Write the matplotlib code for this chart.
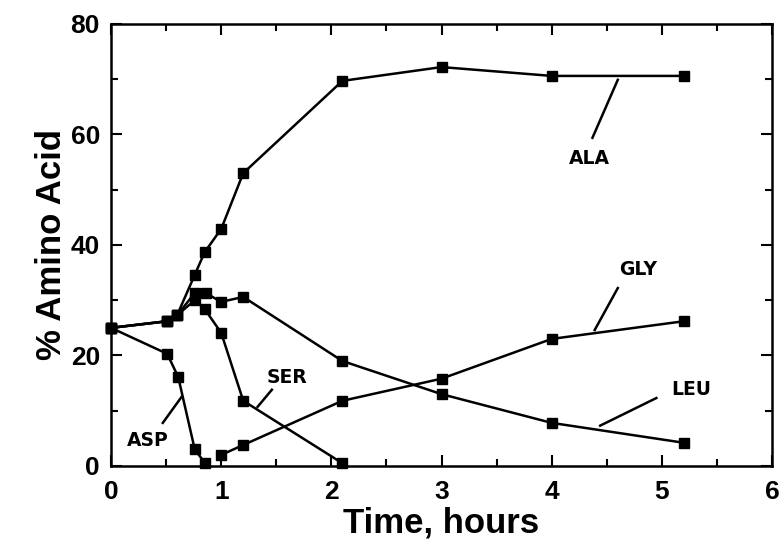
import matplotlib.pyplot as plt
from matplotlib.ticker import MultipleLocator

# amino acid composition (%) vs hydrolysis time
t_ala = [0, 0.51, 0.6, 0.76, 0.85, 1.0, 1.2, 2.1, 3.0, 4.0, 5.2]
ala = [25, 26.2, 27.3, 34.6, 38.7, 42.9, 53.0, 69.7, 72.2, 70.6, 70.6]

t_leu = [0, 0.51, 0.6, 0.76, 0.86, 1.0, 1.2, 2.1, 3.0, 4.0, 5.2]
leu = [25, 26.2, 27.3, 31.3, 31.3, 29.7, 30.6, 19.0, 13.0, 7.8, 4.2]

t_ser = [0, 0.51, 0.6, 0.76, 0.85, 1.0, 1.2, 2.1]
ser = [25, 26.2, 27.3, 30.0, 28.4, 24.1, 11.8, 0.5]

t_asp = [0, 0.51, 0.61, 0.76, 0.85]
asp = [25, 20.3, 16.1, 3.0, 0.6]

t_gly = [1.0, 1.2, 2.1, 3.0, 4.0, 5.2]
gly = [2.0, 3.8, 11.8, 15.8, 23.0, 26.2]

# name, text position, leader line start/end
labels = [
    ("ALA", (4.34, 55.7), (4.37, 59.4), (4.60, 69.9)),
    ("GLY", (4.78, 35.5), (4.60, 32.2), (4.39, 24.6)),
    ("LEU", (5.27, 13.9), (4.95, 12.3), (4.44, 7.3)),
    ("SER", (1.60, 16.1), (1.46, 13.8), (1.33, 10.7)),
    ("ASP", (0.33, 4.7), (0.47, 7.8), (0.64, 12.5)),
]

narrow = ['Liberation Sans Narrow', 'Liberation Sans', 'DejaVu Sans']

fig = plt.figure(figsize=(7.83, 5.55), dpi=100)
ax = fig.add_axes([0.1418, 0.1604, 0.8442, 0.7964])

style = dict(color='black', lw=1.8, marker='s', ms=6.5, mfc='black', mec='black')
for t, v in [(t_ala, ala), (t_leu, leu), (t_ser, ser), (t_asp, asp), (t_gly, gly)]:
    ax.plot(t, v, clip_on=False, **style)

for name, pos, p1, p2 in labels:
    ax.text(pos[0], pos[1], name, ha='center', va='center', fontsize=13.5,
            fontweight='bold', family='DejaVu Sans')
    ax.plot([p1[0], p2[0]], [p1[1], p2[1]], color='black', lw=1.8)

ax.set_xlim(0, 6)
ax.set_ylim(0, 80)
ax.xaxis.set_major_locator(MultipleLocator(1))
ax.xaxis.set_minor_locator(MultipleLocator(0.5))
ax.yaxis.set_major_locator(MultipleLocator(20))
ax.yaxis.set_minor_locator(MultipleLocator(10))
ax.tick_params(which='both', direction='in', top=True, right=True, width=1.5)
ax.tick_params(which='major', length=8)
ax.tick_params(which='minor', length=5)
ax.tick_params(axis='x', pad=10)
ax.tick_params(axis='y', pad=8)
for s in ax.spines.values():
    s.set_linewidth(1.8)

for lab in ax.get_xticklabels() + ax.get_yticklabels():
    lab.set_family(narrow)
    lab.set_fontweight('bold')
    lab.set_fontsize(19)

ax.set_xlabel('Time, hours', family=narrow, fontweight='bold', fontsize=25, labelpad=2)
ax.set_ylabel('% Amino Acid', family=narrow, fontweight='bold', fontsize=25, labelpad=2)

fig.savefig('out.png', dpi=100)
